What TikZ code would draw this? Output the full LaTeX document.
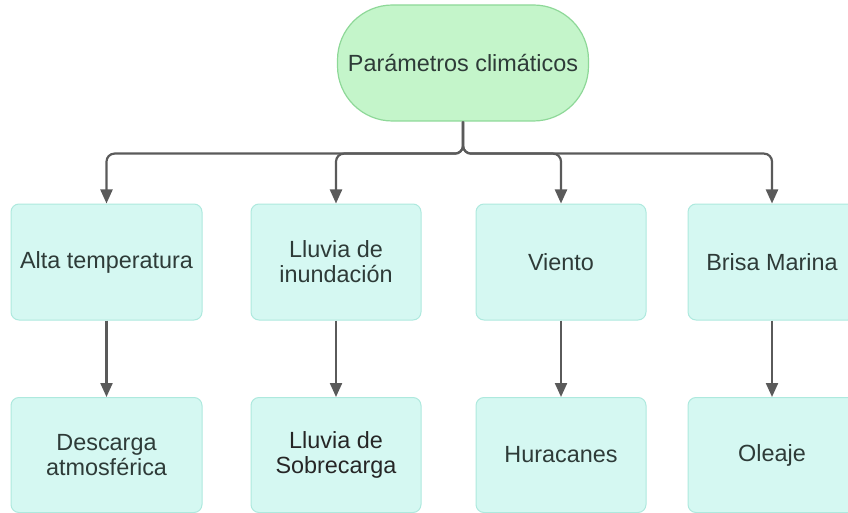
\documentclass[tikz,border=0pt]{standalone}
\usepackage{fontspec}
\setmainfont{Liberation Sans}
\usetikzlibrary{arrows.meta}
\definecolor{boxfill}{HTML}{D5F8F2}
\definecolor{boxline}{HTML}{AEE9DE}
\definecolor{topfill}{HTML}{C4F5CA}
\definecolor{topline}{HTML}{8ED898}
\definecolor{linec}{HTML}{5A5A5A}
\definecolor{txt}{HTML}{2E3B38}
\begin{document}
\begin{tikzpicture}[x=1pt,y=1pt,
 box/.style={draw=boxline, fill=boxfill, line width=1pt, rounded corners=8pt, minimum height=116pt, align=center, text=txt, font=\fontsize{23.4}{25}\selectfont, inner sep=0pt},
 topbox/.style={draw=topline, fill=topfill, line width=1.2pt, rounded corners=55pt, minimum width=251pt, minimum height=116pt, align=center, text=txt, font=\fontsize{23.4}{25}\selectfont, inner sep=0pt},
 conn/.style={draw=linec, line width=2.2pt, rounded corners=8pt, -{Triangle[width=12pt,length=14pt]}}]
\clip (0,0) rectangle (848,-513);
\node[topbox] (p) at (463,-63) {Parámetros climáticos};
\node[box, minimum width=191pt] (a1) at (106.5,-262) {Alta temperatura};
\node[box, minimum width=170pt] (a2) at (336,-262) {Lluvia de\\inundación};
\node[box, minimum width=170pt] (a3) at (561,-262) {Viento};
\node[box, minimum width=168pt] (a4) at (772,-262) {Brisa Marina};
\node[box, minimum width=191pt, minimum height=115pt] (b1) at (106.5,-455) {Descarga\\atmosférica};
\node[box, minimum width=170pt, minimum height=115pt, text=black!85] (b2) at (336,-455) {Lluvia de\\Sobrecarga};
\node[box, minimum width=170pt, minimum height=115pt] (b3) at (561,-455) {Huracanes};
\node[box, minimum width=168pt, minimum height=115pt] (b4) at (772,-455) {Oleaje};
\draw[conn] (p.south) -- ++(0,-32) -| (a1.north);
\draw[conn] (p.south) -- ++(0,-32) -| (a2.north);
\draw[conn] (p.south) -- ++(0,-32) -| (a3.north);
\draw[conn] (p.south) -- ++(0,-32) -| (a4.north);
\draw[conn] (a1.south) -- (b1.north);
\draw[conn] (a2.south) -- (b2.north);
\draw[conn] (a3.south) -- (b3.north);
\draw[conn] (a4.south) -- (b4.north);
\end{tikzpicture}
\end{document}
